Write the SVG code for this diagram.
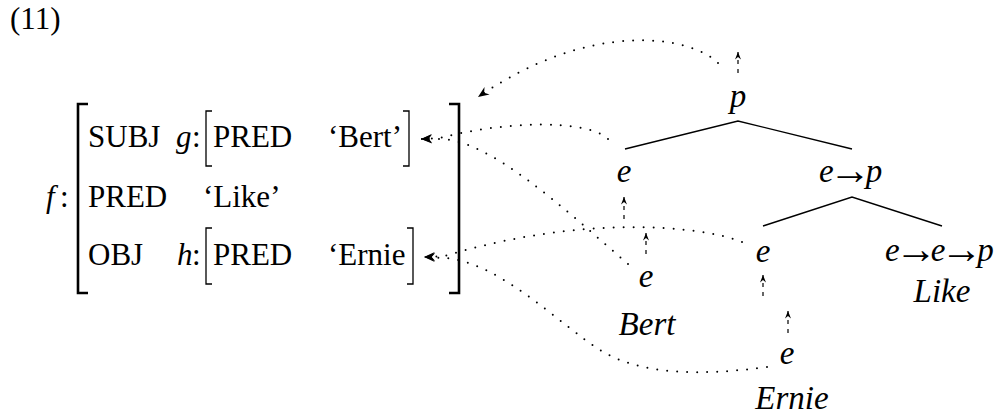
<svg xmlns="http://www.w3.org/2000/svg" width="1000" height="415" viewBox="0 0 1000 415">
<style>
text{font-family:"Liberation Serif","Times New Roman",serif;font-size:31px;fill:#000}
.it{font-style:italic}
.t{font-style:italic;font-size:33px}
.arr{font-style:normal;font-size:42px}
.mid{text-anchor:middle}
.bigbr{fill:none;stroke:#000;stroke-width:2.6}
.br{fill:none;stroke:#000;stroke-width:1.3}
.edge{fill:none;stroke:#000;stroke-width:1.4}
.dot{fill:none;stroke:#000;stroke-width:2;stroke-linecap:round;stroke-dasharray:0 10}
.dash{fill:none;stroke:#000;stroke-width:1.2;stroke-dasharray:4 5}
</style>
<defs>
<marker id="stealth" markerUnits="userSpaceOnUse" markerWidth="14" markerHeight="12" viewBox="-12 -6 14 12" refX="0" refY="0" orient="auto" overflow="visible">
<path d="M0,0 L-11,-4.5 L-7.5,0 L-11,4.5 Z" fill="#000"/>
</marker>
<marker id="small" markerUnits="userSpaceOnUse" markerWidth="10" markerHeight="8" viewBox="-9 -4 10 8" refX="0" refY="0" orient="auto" overflow="visible">
<path d="M0,0 L-7.5,-3 L-5,0 L-7.5,3 Z" fill="#000"/>
</marker>
</defs>

<text x="10" y="29">(11)</text>

<g id="f-structure">
<text class="it" x="46" y="207">f</text><text x="60" y="207">:</text>
<path class="bigbr" d="M88,104 H78 V293 H88"/>
<path class="bigbr" d="M449,104 H459 V293 H449"/>
<text x="88" y="147">SUBJ</text>
<text x="88" y="207">PRED</text>
<text x="203" y="207">‘Like’</text>
<text x="88" y="265">OBJ</text>
</g>

<g id="g-structure">
<text class="it" x="176" y="147">g</text><text x="192" y="147">:</text>
<path class="br" d="M212,111 H206 V166 H212"/>
<path class="br" d="M403,111 H409 V166 H403"/>
<text x="213" y="147">PRED</text>
<text x="328" y="147">‘Bert’</text>
</g>

<g id="h-structure">
<text class="it" x="177" y="265">h</text><text x="192" y="265">:</text>
<path class="br" d="M212,228 H206 V284 H212"/>
<path class="br" d="M407,228 H413 V284 H407"/>
<text x="213" y="265">PRED</text>
<text x="328" y="265">‘Ernie</text>
</g>

<g id="node-p"><text class="t mid" x="738" y="107">p</text></g>
<g id="node-e-subj"><text class="t mid" x="624" y="182">e</text></g>
<g id="node-e-p"><text class="t" x="819" y="182">e<tspan class="arr" dx="-5" dy="2">→</tspan><tspan dx="-5" dy="-2">p</tspan></text></g>
<g id="node-e-obj"><text class="t mid" x="763" y="262">e</text></g>
<g id="node-e-e-p"><text class="t" x="885" y="261">e<tspan class="arr" dx="-5" dy="2">→</tspan><tspan dx="-6" dy="-2">e</tspan><tspan class="arr" dx="-5" dy="2">→</tspan><tspan dx="-5" dy="-2">p</tspan></text></g>
<g id="node-like"><text class="t mid" x="942" y="302">Like</text></g>
<g id="node-e-bert"><text class="t mid" x="646" y="287">e</text></g>
<g id="node-bert"><text class="t mid" x="647" y="335">Bert</text></g>
<g id="node-e-ernie"><text class="t mid" x="787" y="364">e</text></g>
<g id="node-ernie"><text class="t mid" x="792" y="409">Ernie</text></g>

<g id="connectors">
<path class="edge" d="M625,149 L738,121 L852,149"/>
<path class="edge" d="M763,226 L852,197 L942,226"/>

<path class="dot" d="M718,63 C690,35 590,20 478,97" marker-end="url(#stealth)"/>
<path class="dot" d="M608,139 C585,118 500,122 440,138 L421,139" marker-end="url(#stealth)"/>
<path class="dot" d="M628,264 C560,205 490,140 440,139 L421,139" marker-end="url(#stealth)"/>
<path class="dot" d="M742,242 C700,225 580,215 445,256 L424,257" marker-end="url(#stealth)"/>
<path class="dot" d="M767,367 C700,376 640,375 600,350 C560,325 500,262 445,258 L424,257" marker-end="url(#stealth)"/>

<path class="dash" d="M738,73 V52" marker-end="url(#small)"/>
<path class="dash" d="M624,219 V197" marker-end="url(#small)"/>
<path class="dash" d="M646,254 V233" marker-end="url(#small)"/>
<path class="dash" d="M763,296 V275" marker-end="url(#small)"/>
<path class="dash" d="M788,333 V311" marker-end="url(#small)"/>
</g>
</svg>
